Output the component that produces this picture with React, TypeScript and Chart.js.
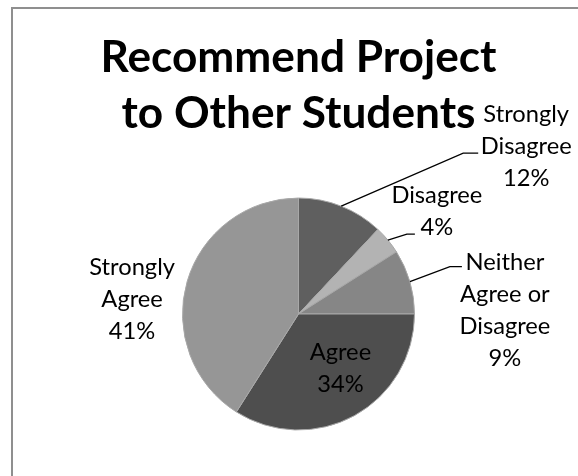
import React, { useEffect, useRef } from 'react';
import { Chart, registerables } from 'chart.js';

Chart.register(...registerables);

// ---- data ----
const categories = ['Strongly Disagree', 'Disagree', 'Neither Agree or Disagree', 'Agree', 'Strongly Agree'];
const labelLines = [['Strongly', 'Disagree'], ['Disagree'], ['Neither', 'Agree or', 'Disagree'], ['Agree'], ['Strongly', 'Agree']];
const values = [12, 4, 9, 34, 41];
const titleLines = ['Recommend Project', 'to Other Students'];

// ---- styles ----
const sliceColors = ['#5f5f5f', '#b3b3b3', '#868686', '#4e4e4e', '#969696'];
// label placement relative to the slice's outer-edge midpoint: centre-x offset, first-baseline offset,
// and optional leader line elbow (dx, dy) plus end x offset
const labelPlacement = [
  { dx: 185, dy: -84, leader: { ex: 122, ey: -53, endX: 137 } },
  { dx: 49, dy: -37, leader: { ex: 19, ey: -6, endX: 27 } },
  { dx: 95, dy: -12, leader: { ex: 40, ey: -15, endX: 52 } },
  { dx: -14, dy: -56, leader: null },
  { dx: -55, dy: -7, leader: null },
];
const W = 578;
const H = 476;

function fitSize(text: string, weight: string, family: string, target: number) {
  const c = document.createElement('canvas').getContext('2d')!;
  c.font = `${weight} 100px ${family}`;
  return (100 * target) / c.measureText(text).width;
}

export default function App() {
  const ref = useRef<HTMLCanvasElement>(null);
  useEffect(() => {
    const canvas = ref.current!;
    const family = 'Lato';
    const titleSize = fitSize(titleLines[0], 'bold', family, 396);
    const labelSize = fitSize('Disagree', 'normal', family, 91);
    const labelPitch = 32;
    const titleBaselines = [72, 128];
    const total = values.reduce((a, b) => a + b, 0);

    const labelPlugin = {
      id: 'excelLabels',
      afterDatasetsDraw(chart: any) {
        const ctx = chart.ctx as CanvasRenderingContext2D;
        const meta = chart.getDatasetMeta(0);
        ctx.save();
        // title
        const cx = (chart.chartArea.left + chart.chartArea.right) / 2;
        ctx.fillStyle = '#000';
        ctx.textAlign = 'center';
        ctx.textBaseline = 'alphabetic';
        ctx.font = `bold ${titleSize}px ${family}`;
        titleLines.forEach((t, i) => ctx.fillText(t, cx, titleBaselines[i]));
        // slice labels
        ctx.font = `${labelSize}px ${family}`;
        meta.data.forEach((arc: any, i: number) => {
          const p = arc.getProps(['x', 'y', 'startAngle', 'endAngle', 'outerRadius'], true);
          const mid = (p.startAngle + p.endAngle) / 2;
          const ex = p.x + Math.cos(mid) * p.outerRadius;
          const ey = p.y + Math.sin(mid) * p.outerRadius;
          const pl = labelPlacement[i];
          const pct = Math.round((values[i] / total) * 100) + '%';
          const lines = [...labelLines[i], pct];
          lines.forEach((l, k) => ctx.fillText(l, ex + pl.dx, ey + pl.dy + k * labelPitch));
          if (pl.leader) {
            ctx.strokeStyle = '#000';
            ctx.lineWidth = 1.3;
            ctx.beginPath();
            ctx.moveTo(ex, ey);
            ctx.lineTo(ex + pl.leader.ex, ey + pl.leader.ey);
            ctx.lineTo(ex + pl.leader.endX, ey + pl.leader.ey);
            ctx.stroke();
          }
        });
        ctx.restore();
      },
    };

    const chart = new Chart(canvas, {
      type: 'pie',
      data: {
        labels: categories,
        datasets: [
          {
            data: values,
            backgroundColor: sliceColors,
            borderColor: '#a8a8a8',
            borderWidth: 1,
            radius: 116,
          } as any,
        ],
      },
      options: {
        animation: false,
        responsive: false,
        maintainAspectRatio: false,
        layout: { padding: { left: 182.5, right: 163.5, top: 198, bottom: 46 } },
        plugins: {
          legend: { display: false },
          title: { display: false },
          tooltip: { enabled: false },
        },
      },
      plugins: [labelPlugin],
    });
    return () => chart.destroy();
  }, []);

  return (
    <div style={{ position: 'absolute', left: 0, top: 0, width: W, height: H, background: '#fff', overflow: 'hidden' }}>
      <div
        style={{
          position: 'absolute',
          left: 11,
          top: 7,
          width: W - 11,
          height: H - 7,
          boxSizing: 'border-box',
          borderLeft: '2px solid #8f8f8f',
          borderTop: '2px solid #8f8f8f',
        }}
      />
      <canvas ref={ref} width={W} height={H} style={{ position: 'absolute', left: 0, top: 0, width: W, height: H }} />
    </div>
  );
}
